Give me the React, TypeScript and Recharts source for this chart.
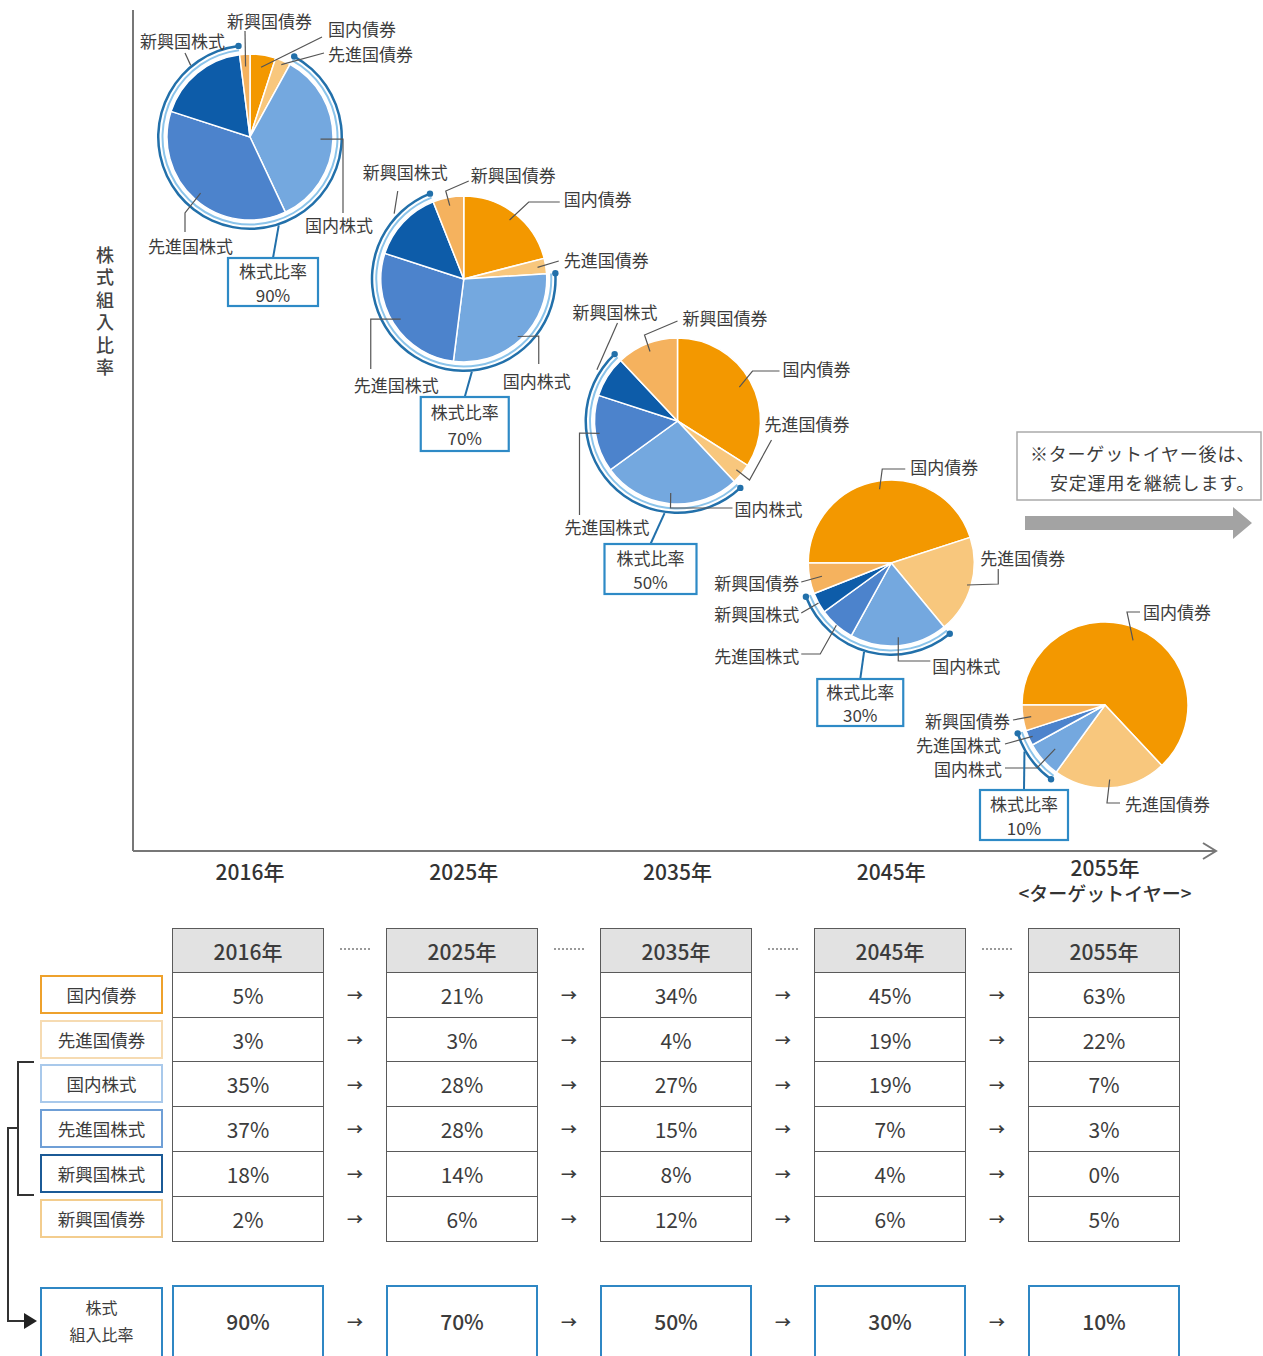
import React from "react";
import { PieChart, Pie, Cell } from "recharts";

const years = ["2016年", "2025年", "2035年", "2045年", "2055年"];
const assetNames = ["国内債券", "先進国債券", "国内株式", "先進国株式", "新興国株式", "新興国債券"];

// allocation (%) per year, in pie order (clockwise)
const domesticBonds = [5, 21, 34, 45, 63];
const developedBonds = [3, 3, 4, 19, 22];
const domesticStocks = [35, 28, 27, 19, 7];
const developedStocks = [37, 28, 15, 7, 3];
const emergingStocks = [18, 14, 8, 4, 0];
const emergingBonds = [2, 6, 12, 6, 5];
const stockRatio = [90, 70, 50, 30, 10];

const series = [domesticBonds, developedBonds, domesticStocks, developedStocks, emergingStocks, emergingBonds];

const sliceColors = ["#f39800", "#f8c77d", "#74a8df", "#4c83cc", "#0d5ca9", "#f5b25e"];
const tagBorders = ["#eea12c", "#f6dbb2", "#a9c9eb", "#6f9fd6", "#1b5a96", "#f3cd8e"];

const FONT = '"Noto Sans CJK JP", "Noto Sans", sans-serif';
const TEXT = "#3c3c3c";
const R = 83;
const RAD = Math.PI / 180;
const W = 1263;
const H = 1356;

// pie centres: one column per year, height follows the stock ratio
const cxOf = (i: number) => 250 + i * 213.75;
const cyOf = (ratio: number) => 137 + (90 - ratio) * 7.1;
const startAngles = [90, 90, 90, 180, 180];

type Lbl = { f: number; pts: number[][]; tx: number; ty: number; anchor?: "start" | "end" } | null;

// label placement relative to each pie centre
const labelLayout: Lbl[][] = [
  [
    { f: 0.85, pts: [[72, -100]], tx: 78, ty: -109 },
    { f: 0.95, pts: [[74, -84]], tx: 78, ty: -84 },
    { f: 0.85, pts: [[93, 2], [93, 76]], tx: 55, ty: 87 },
    { f: 0.9, pts: [[-65, 76], [-65, 95]], tx: -102, ty: 108 },
    { f: 1.12, pts: [[-65, -84]], tx: -110, ty: -97 },
    { f: 0.85, pts: [[-5, -106]], tx: -23, ty: -117 },
  ],
  [
    { f: 0.9, pts: [[65, -77], [96, -77]], tx: 100, ty: -81 },
    { f: 0.9, pts: [[95, -18]], tx: 100, ty: -20 },
    { f: 0.95, pts: [[75, 57], [75, 85]], tx: 39, ty: 101 },
    { f: 0.9, pts: [[-93, 40], [-93, 90]], tx: -110, ty: 105 },
    { f: 1.15, pts: [[-66, -88]], tx: -101, ty: -108 },
    { f: 0.9, pts: [[-18, -88], [5, -98]], tx: 7, ty: -105 },
  ],
  [
    { f: 0.85, pts: [[75, -50], [102, -50]], tx: 105, ty: -53 },
    { f: 0.92, pts: [[72, 59], [94, 19]], tx: 87, ty: 2 },
    { f: 0.87, pts: [[-7, 87], [55, 87]], tx: 57, ty: 87 },
    { f: 0.95, pts: [[-98, 12], [-98, 94]], tx: -113, ty: 105 },
    { f: 1.15, pts: [[-60, -98]], tx: -105, ty: -110 },
    { f: 0.9, pts: [[-33, -86], [0, -100]], tx: 5, ty: -104 },
  ],
  [
    { f: 0.9, pts: [[-9, -94], [14, -94]], tx: 19, ty: -97 },
    { f: 0.95, pts: [[107, 21], [107, 6]], tx: 89, ty: -6 },
    { f: 0.9, pts: [[7, 98], [39, 98]], tx: 41, ty: 102 },
    { f: 1.0, pts: [[-71, 91], [-90, 91]], tx: -92, ty: 92, anchor: "end" },
    { f: 1.0, pts: [[-90, 50]], tx: -92, ty: 50, anchor: "end" },
    { f: 0.85, pts: [[-90, 19]], tx: -92, ty: 19, anchor: "end" },
  ],
  [
    { f: 0.85, pts: [[22, -93], [35, -93]], tx: 38, ty: -94 },
    { f: 0.9, pts: [[2, 98], [15, 98]], tx: 20, ty: 98 },
    { f: 0.8, pts: [[-68, 63], [-100, 63]], tx: -103, ty: 63, anchor: "end" },
    { f: 0.95, pts: [[-100, 39]], tx: -104, ty: 39, anchor: "end" },
    null,
    { f: 0.9, pts: [[-92, 15]], tx: -95, ty: 15, anchor: "end" },
  ],
];

// "株式比率" callout box per pie (relative to centre), lineAngle clockwise from 12 o'clock
const boxLayout = [
  { dx: 23, top: 121, w: 90, h: 48, lineAngle: 162 },
  { dx: 1, top: 118, w: 88, h: 54, lineAngle: 175 },
  { dx: -27, top: 123, w: 92, h: 50, lineAngle: 188 },
  { dx: -31, top: 116, w: 86, h: 47, lineAngle: 197 },
  { dx: -81, top: 85, w: 88, h: 50, lineAngle: 240 },
];

const pieData = (i: number) => assetNames.map((name, k) => ({ name, value: series[k][i] }));

const ringData = (i: number) => [
  { name: "債券", value: domesticBonds[i] + developedBonds[i] },
  { name: "株式", value: domesticStocks[i] + developedStocks[i] + emergingStocks[i] },
  { name: "新興国債券", value: emergingBonds[i] },
];

const sliceLabel = (i: number) => (p: any) => {
  const l = labelLayout[i][p.index];
  if (!l || !p.value) return null;
  const { cx, cy, midAngle, outerRadius } = p;
  const sx = cx + outerRadius * l.f * Math.cos(-midAngle * RAD);
  const sy = cy + outerRadius * l.f * Math.sin(-midAngle * RAD);
  const d = `M${sx},${sy}` + l.pts.map(([x, y]) => ` L${cx + x},${cy + y}`).join("");
  return (
    <g key={`lbl-${i}-${p.index}`}>
      <path d={d} fill="none" stroke="#555" strokeWidth={1.2} />
      <text
        x={cx + l.tx}
        y={cy + l.ty}
        textAnchor={l.anchor || "start"}
        dominantBaseline="central"
        fontSize={17}
        fill={TEXT}
        fontFamily={FONT}
      >
        {p.name}
      </text>
    </g>
  );
};

const ringLabel = (i: number) => (p: any) => {
  if (p.index !== 1) return null;
  const { cx, cy, outerRadius } = p;
  const b = boxLayout[i];
  const sx = cx + outerRadius * Math.sin(b.lineAngle * RAD);
  const sy = cy - outerRadius * Math.cos(b.lineAngle * RAD);
  const bx = cx + b.dx;
  const by = cy + b.top;
  const ends = [p.startAngle, p.endAngle]
    .filter((a) => typeof a === "number")
    .map((a) => ({ x: cx + (outerRadius - 1.2) * Math.cos(-a * RAD), y: cy + (outerRadius - 1.2) * Math.sin(-a * RAD) }));
  return (
    <g key={`ring-${i}`}>
      <line x1={sx} y1={sy} x2={bx} y2={by} stroke="#2270aa" strokeWidth={2} />
      {ends.map((e, k) => (
        <circle key={k} cx={e.x} cy={e.y} r={3.2} fill="#2270aa" />
      ))}
      <rect x={bx - b.w / 2} y={by} width={b.w} height={b.h} fill="#fff" stroke="#2e8ac6" strokeWidth={2.2} />
      <text x={bx} y={by + b.h * 0.27} textAnchor="middle" dominantBaseline="central" fontSize={17} fill={TEXT} fontFamily={FONT}>
        株式比率
      </text>
      <text x={bx} y={by + b.h * 0.75} textAnchor="middle" dominantBaseline="central" fontSize={17} fill={TEXT} fontFamily={FONT}>
        {stockRatio[i]}%
      </text>
    </g>
  );
};

const colX = [172, 386, 600, 814, 1028];
const COL_W = 152;
const HEAD_TOP = 928;
const HEAD_H = 44;
const ROW_H = 44.7;

const cellBase: React.CSSProperties = {
  position: "absolute",
  boxSizing: "border-box",
  display: "flex",
  alignItems: "center",
  justifyContent: "center",
  color: TEXT,
};

const Table = () => {
  const rowTop = (k: number) => HEAD_TOP + HEAD_H + k * ROW_H;
  return (
    <>
      {years.map((y, i) => (
        <React.Fragment key={y}>
          <div
            style={{
              ...cellBase,
              left: colX[i],
              top: HEAD_TOP,
              width: COL_W,
              height: HEAD_H + 1.5,
              border: "1.5px solid #5a5a5a",
              background: "#e2e2e2",
              fontSize: 21,
              fontWeight: 500,
            }}
          >
            {y}
          </div>
          {series.map((s, k) => (
            <div
              key={k}
              style={{
                ...cellBase,
                left: colX[i],
                top: rowTop(k),
                width: COL_W,
                height: ROW_H + 1.5,
                border: "1.5px solid #5a5a5a",
                background: "#fff",
                fontSize: 21,
              }}
            >
              {s[i]}%
            </div>
          ))}
          <div
            style={{
              ...cellBase,
              left: colX[i],
              top: 1285,
              width: COL_W,
              height: 80,
              border: "2.2px solid #2f87c4",
              background: "#fff",
              fontSize: 21,
              fontWeight: 500,
              paddingBottom: 8,
            }}
          >
            {stockRatio[i]}%
          </div>
          {i < years.length - 1 && (
            <>
              <div
                style={{
                  position: "absolute",
                  left: colX[i] + COL_W + 16,
                  top: HEAD_TOP + 20,
                  width: 30,
                  borderTop: "2px dotted #9a9a9a",
                }}
              />
              {series.map((_, k) => (
                <div
                  key={k}
                  style={{ ...cellBase, left: colX[i] + COL_W, top: rowTop(k), width: 62, height: ROW_H, fontSize: 16, fontWeight: 700 }}
                >
                  →
                </div>
              ))}
              <div style={{ ...cellBase, left: colX[i] + COL_W, top: 1285, width: 62, height: 72, fontSize: 16, fontWeight: 700 }}>
                →
              </div>
            </>
          )}
        </React.Fragment>
      ))}
      {assetNames.map((n, k) => (
        <div
          key={n}
          style={{
            ...cellBase,
            left: 40,
            top: rowTop(k) + 3,
            width: 123,
            height: 39,
            border: `2.2px solid ${tagBorders[k]}`,
            background: "#fff",
            fontSize: 17.5,
          }}
        >
          {n}
        </div>
      ))}
      <div
        style={{
          ...cellBase,
          left: 40,
          top: 1287,
          width: 123,
          height: 80,
          border: "2.2px solid #2f87c4",
          background: "#fff",
          fontSize: 16,
          lineHeight: "27px",
          flexDirection: "column",
          justifyContent: "flex-start",
          paddingTop: 5,
        }}
      >
        <span>株式</span>
        <span>組入比率</span>
      </div>
    </>
  );
};

const Backdrop = () => (
  <svg width={W} height={H} style={{ position: "absolute", left: 0, top: 0 }} fontFamily={FONT}>
    {/* axes */}
    <line x1={133} y1={10} x2={133} y2={851} stroke="#777" strokeWidth={2} />
    <line x1={133} y1={851} x2={1216} y2={851} stroke="#777" strokeWidth={2} />
    <polyline points="1203,843 1216,851 1203,859" fill="none" stroke="#777" strokeWidth={2} />
    <text
      x={105}
      y={246}
      style={{ writingMode: "vertical-rl" }}
      fontSize={18}
      fontWeight={500}
      fill="#444"
      letterSpacing={4.5}
    >
      株式組入比率
    </text>
    {years.map((y, i) => (
      <text key={y} x={cxOf(i)} y={i === 4 ? 867 : 871} textAnchor="middle" dominantBaseline="central" fontSize={21} fontWeight={500} fill="#333">
        {y}
      </text>
    ))}
    <text x={cxOf(4)} y={892} textAnchor="middle" dominantBaseline="central" fontSize={19} fontWeight={500} fill="#333">
      {"<ターゲットイヤー>"}
    </text>
    {/* note + arrow */}
    <rect x={1017} y={432} width={244} height={68} fill="#fff" stroke="#aaa" strokeWidth={1.5} />
    <text x={1255} y={453} textAnchor="end" dominantBaseline="central" fontSize={18} fill={TEXT} letterSpacing={0.8}>
      ※ターゲットイヤー後は、
    </text>
    <text x={1255} y={482} textAnchor="end" dominantBaseline="central" fontSize={18} fill={TEXT} letterSpacing={0.8}>
      安定運用を継続します。
    </text>
    <polygon points="1025,516 1233,516 1233,507 1252,523 1233,539 1233,530 1025,530" fill="#a3a3a3" />
    {/* bracket linking stock rows to the total */}
    <path d="M34,1062 H18 V1195 H34" fill="none" stroke="#333" strokeWidth={2} />
    <path d="M18,1128 H8 V1321 H26" fill="none" stroke="#333" strokeWidth={2} />
    <polygon points="24,1313 37,1321 24,1329" fill="#222" />
  </svg>
);

export default function App() {
  return (
    <div style={{ position: "absolute", left: 0, top: 0, width: W, height: H, overflow: "hidden", background: "#fff", fontFamily: FONT }}>
      <Backdrop />
      <div style={{ position: "absolute", left: 0, top: 0 }}>
        <PieChart width={W} height={910} margin={{ top: 0, right: 0, bottom: 0, left: 0 }}>
          {years.map((y, i) => {
            const cx = cxOf(i);
            const cy = cyOf(stockRatio[i]);
            const s = startAngles[i];
            return [
              <Pie
                key={`pie-${y}`}
                data={pieData(i)}
                dataKey="value"
                nameKey="name"
                cx={cx}
                cy={cy}
                outerRadius={R}
                startAngle={s}
                endAngle={s - 360}
                stroke="#fff"
                strokeWidth={1.5}
                label={sliceLabel(i)}
                labelLine={false}
                isAnimationActive={false}
              >
                {assetNames.map((n, k) => (
                  <Cell key={n} fill={sliceColors[k]} />
                ))}
              </Pie>,
              <Pie
                key={`ring-in-${y}`}
                data={ringData(i)}
                dataKey="value"
                cx={cx}
                cy={cy}
                innerRadius={R + 3.5}
                outerRadius={R + 5.5}
                startAngle={s}
                endAngle={s - 360}
                stroke="none"
                isAnimationActive={false}
              >
                {[0, 1, 2].map((k) => (
                  <Cell key={k} fill={k === 1 ? "#8cc4ea" : "transparent"} />
                ))}
              </Pie>,
              <Pie
                key={`ring-out-${y}`}
                data={ringData(i)}
                dataKey="value"
                cx={cx}
                cy={cy}
                innerRadius={R + 7.5}
                outerRadius={R + 10}
                startAngle={s}
                endAngle={s - 360}
                stroke="none"
                label={ringLabel(i)}
                labelLine={false}
                isAnimationActive={false}
              >
                {[0, 1, 2].map((k) => (
                  <Cell key={k} fill={k === 1 ? "#2270aa" : "transparent"} />
                ))}
              </Pie>,
            ];
          })}
        </PieChart>
      </div>
      <Table />
    </div>
  );
}
